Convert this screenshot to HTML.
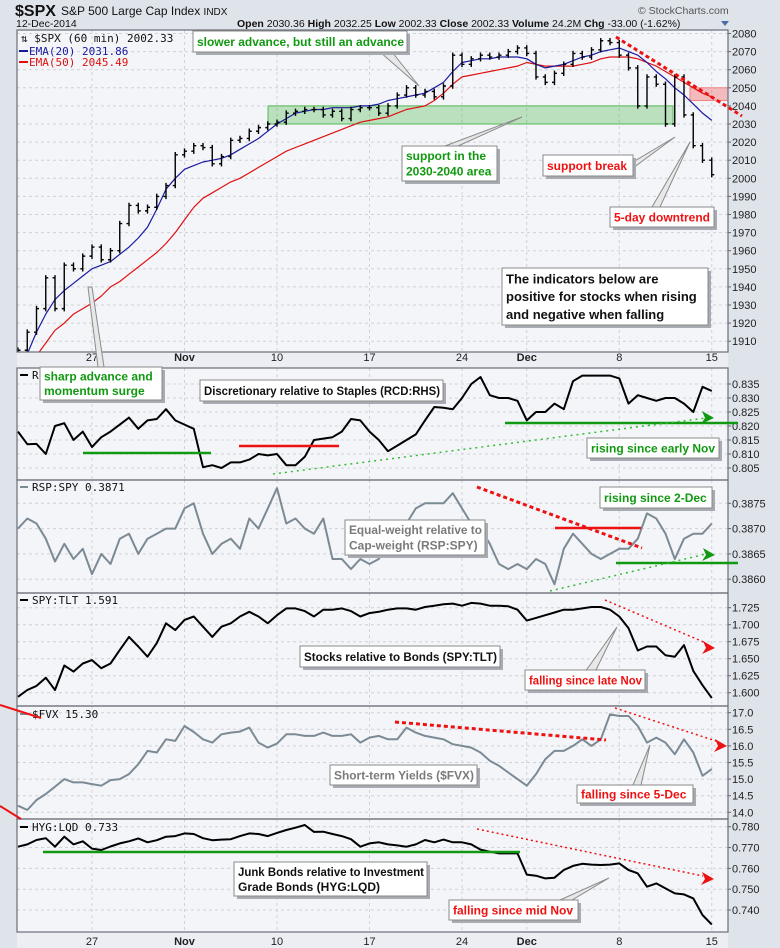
<!DOCTYPE html>
<html><head><meta charset="utf-8">
<style>
html,body{margin:0;padding:0;background:#dfe3ea;}
svg{display:block;font-family:"Liberation Sans",sans-serif;}
.ax{font-size:11px;fill:#222;}
.mono{font-family:"DejaVu Sans Mono","Liberation Mono",monospace;font-size:11px;}
</style></head>
<body>
<svg id="chart" width="780" height="948" viewBox="0 0 780 948" xmlns="http://www.w3.org/2000/svg">
<rect x="0" y="0" width="780" height="948" fill="#dfe3ea"/>
<rect x="17" y="352" width="711" height="16" fill="#eceef3"/>
<rect x="17" y="932" width="711" height="16" fill="#eceef3"/>
<text x="15" y="16" font-size="16" font-weight="bold" fill="#111">$SPX</text>
<text x="61" y="15" font-size="12" fill="#111">S&amp;P 500 Large Cap Index <tspan font-size="10">INDX</tspan></text>
<text x="16" y="27" font-size="10.5" fill="#111">12-Dec-2014</text>
<text x="638" y="14" font-size="10.5" fill="#555">© StockCharts.com</text>
<text x="237" y="27" font-size="10.5" fill="#111"><tspan font-weight="bold">Open</tspan> 2030.36 <tspan font-weight="bold">High</tspan> 2032.25 <tspan font-weight="bold">Low</tspan> 2002.33 <tspan font-weight="bold">Close</tspan> 2002.33 <tspan font-weight="bold">Volume</tspan> 24.2M <tspan font-weight="bold">Chg</tspan> -33.00 (-1.62%)</text>
<path d="M721,21 L729,21 L725,26 Z" fill="#4a6fa5"/>
<g id="layer"></g>
</svg>
<script>
// ---------- data ----------
const weekLabels = ["27","Nov","10","17","24","Dec","8","15"];
const weekSlots = [8,18,28,38,48,55,65,75];
const spxClose = [1905,1915,1928,1945,1928,1952,1950,1957,1962,1955,1960,1975,1985,1982,1984,1990,1996,2013,2015,2018,2017,2008,2012,2021,2022,2026,2028,2030,2031,2036,2037,2038,2038,2035,2037,2033,2038,2039,2039,2036,2040,2046,2050,2046,2048,2045,2051,2068,2063,2066,2068,2067,2068,2070,2072,2069,2056,2053,2058,2063,2069,2067,2071,2076,2075,2068,2061,2040,2056,2052,2030,2056,2035,2018,2010,2002];
const ema20 = [1890,1903,1915,1925,1933,1938,1942,1946,1950,1952,1954,1958,1962,1967,1973,1983,1994,2000,2005,2007,2009,2010,2011,2013,2016,2019,2022,2026,2030,2033,2036,2037,2038,2038,2039,2039,2039,2040,2040,2041,2043,2044,2045,2046,2047,2050,2053,2059,2064,2065,2066,2066,2067,2067,2067,2066,2063,2061,2062,2063,2065,2067,2068,2070,2071,2072,2070,2068,2064,2059,2055,2050,2046,2041,2036,2032];
const ema50 = [1895,1898,1902,1909,1916,1920,1925,1928,1931,1935,1940,1943,1947,1951,1955,1959,1964,1970,1977,1984,1989,1992,1995,1998,2000,2003,2006,2009,2012,2015,2017,2019,2021,2023,2025,2027,2029,2031,2032,2033,2034,2036,2038,2039,2040,2043,2047,2052,2056,2057,2058,2059,2060,2061,2062,2064,2063,2062,2062,2062,2062,2063,2064,2066,2067,2067,2067,2066,2064,2062,2059,2056,2053,2050,2047,2045];
const rcdValues = [0.818,0.8135,0.8136,0.810,0.820,0.821,0.815,0.818,0.8125,0.816,0.818,0.8205,0.823,0.819,0.822,0.8225,0.826,0.822,0.8205,0.819,0.8053,0.806,0.805,0.807,0.807,0.808,0.810,0.8095,0.810,0.806,0.806,0.809,0.815,0.8155,0.816,0.818,0.8225,0.822,0.818,0.815,0.811,0.813,0.815,0.817,0.822,0.8268,0.8265,0.826,0.830,0.835,0.8375,0.831,0.830,0.830,0.829,0.822,0.825,0.825,0.828,0.826,0.836,0.838,0.838,0.838,0.838,0.837,0.828,0.831,0.830,0.829,0.830,0.830,0.828,0.825,0.834,0.8325];
const rspValues = [0.3870,0.3872,0.3871,0.3868,0.38635,0.3867,0.3864,0.3866,0.3861,0.3865,0.3863,0.3868,0.3869,0.3865,0.3868,0.3869,0.3870,0.3870,0.3874,0.3875,0.3869,0.3865,0.3867,0.3868,0.3866,0.3872,0.3870,0.3874,0.3878,0.3871,0.3872,0.3870,0.3869,0.3872,0.3864,0.3864,0.3862,0.3864,0.3863,0.3864,0.3867,0.3867,0.3871,0.3874,0.3875,0.3875,0.3875,0.3877,0.3874,0.3871,0.3870,0.3867,0.3863,0.3862,0.3863,0.3862,0.3864,0.3863,0.3859,0.3866,0.3869,0.3867,0.3865,0.3864,0.3865,0.3866,0.3866,0.3868,0.3873,0.3872,0.3869,0.3864,0.3868,0.3869,0.3869,0.3871];
const tltValues = [1.594,1.604,1.610,1.622,1.604,1.640,1.631,1.643,1.648,1.636,1.643,1.663,1.682,1.668,1.653,1.673,1.702,1.692,1.707,1.712,1.697,1.682,1.697,1.702,1.712,1.719,1.712,1.702,1.714,1.724,1.724,1.720,1.712,1.722,1.722,1.724,1.720,1.712,1.717,1.719,1.722,1.724,1.724,1.722,1.726,1.728,1.730,1.731,1.728,1.732,1.731,1.728,1.728,1.727,1.722,1.706,1.710,1.714,1.718,1.722,1.722,1.724,1.726,1.726,1.722,1.712,1.695,1.662,1.668,1.668,1.655,1.653,1.670,1.632,1.611,1.592];
const fvxValues = [14.2,14.07,14.37,14.55,14.77,15.0,14.9,14.9,14.85,14.8,14.97,15.0,15.15,15.45,15.85,15.8,16.2,16.15,16.6,16.42,16.2,16.1,16.35,16.4,16.43,16.55,16.1,15.95,16.07,16.35,16.35,16.3,16.3,16.4,16.3,16.3,16.35,16.1,16.25,16.3,16.2,16.2,16.55,16.4,16.3,16.25,16.2,16.05,16.0,15.95,15.8,15.55,15.4,15.2,15.0,14.8,15.15,15.6,15.85,15.85,16.0,16.2,16.0,16.2,16.95,16.9,16.9,16.6,16.1,16.25,16.1,15.75,16.2,15.8,15.1,15.3];
const hygValues = [0.7704,0.7715,0.7736,0.7745,0.7704,0.7752,0.7715,0.773,0.7695,0.7688,0.7705,0.772,0.773,0.7744,0.7725,0.7735,0.7752,0.7755,0.7768,0.7765,0.7745,0.7735,0.7738,0.774,0.7755,0.7768,0.7765,0.7755,0.777,0.7784,0.7795,0.7808,0.7775,0.7776,0.7765,0.7755,0.774,0.7704,0.772,0.7725,0.7715,0.771,0.7704,0.7715,0.7736,0.7725,0.7738,0.7725,0.7725,0.7715,0.769,0.768,0.7672,0.7672,0.7672,0.757,0.7565,0.7552,0.7555,0.7592,0.7612,0.7622,0.7618,0.7616,0.7618,0.7624,0.7592,0.7576,0.7512,0.7528,0.7504,0.748,0.7475,0.7456,0.7376,0.733];
const spxTicks = [2080,2070,2060,2050,2040,2030,2020,2010,2000,1990,1980,1970,1960,1950,1940,1930,1920,1910];
const rcdTicks = ["0.835","0.830","0.825","0.820","0.815","0.810","0.805"];
const rspTicks = ["0.3875","0.3870","0.3865","0.3860"];
const tltTicks = ["1.725","1.700","1.675","1.650","1.625","1.600"];
const fvxTicks = ["17.0","16.5","16.0","15.5","15.0","14.5","14.0"];
const hygTicks = ["0.780","0.770","0.760","0.750","0.740"];

// ---------- scales ----------
const X0 = 18, SLOT = 9.25, PL = 17, PR = 728;
function xs(j){ return X0 + SLOT*j; }
const yMain = v => 178.3 - (v-2000)*1.81;
const yRcd = v => 384 + (0.835-v)*2800;
const yRsp = v => 503.3 + (0.3875-v)*50600;
const yTlt = v => 607.7 + (1.725-v)*680;
const yFvx = v => 712.7 + (17-v)*33.2;
const yHyg = v => 826.7 + (0.78-v)*2083;

const NS = "http://www.w3.org/2000/svg";
const layer = document.getElementById('layer');
function mk(tag, attrs, parent){
  const e = document.createElementNS(NS, tag);
  for (const k in attrs) e.setAttribute(k, attrs[k]);
  (parent||layer).appendChild(e);
  return e;
}

const defs = mk('defs', {});
function clip(id, t, b){
  const c = mk('clipPath', {id:id}, defs);
  mk('rect', {x:PL, y:t, width:PR-PL, height:b-t}, c);
}

function panel(name, t, b, ticks, yf, clipId){
  clip(clipId, t, b);
  const bg = mk('rect', {x:PL, y:t, width:PR-PL, height:b-t, fill:'#f4f5f9'});
  
  
  const g = mk('g', {});
  
  
  ticks.forEach(tk => {
    const y = yf(parseFloat(tk));
    if (y > t+2 && y < b-2) mk('line', {x1:PL, x2:PR, y1:y, y2:y, stroke:'#cfd2d8', 'stroke-dasharray':'3,3'}, g);
    const lbl = mk('text', {x:PR+4, y:y+4, class:'ax'});
    lbl.textContent = tk;
    
    
    mk('line', {x1:PR, x2:PR+3, y1:y, y2:y, stroke:'#666'});
  });
  weekSlots.forEach(j => {
    const x = xs(j);
    if (x < PR-1) mk('line', {x1:x, x2:x, y1:t, y2:b, stroke:'#cfd2d8', 'stroke-dasharray':'3,3'}, g);
  });
}

function border(name, t, b){
  const r = mk('rect', {x:PL, y:t, width:PR-PL, height:b-t, fill:'none', stroke:'#6a6e78', 'stroke-width':1.2});
  
  
}

function series(name, vals, yf, color, width, clipId){
  const d = vals.map((v,j) => (j?'L':'M') + xs(j).toFixed(1) + ',' + yf(v).toFixed(1)).join(' ');
  const p = mk('path', {d:d, fill:'none', stroke:color, 'stroke-width':width, 'stroke-linejoin':'round', 'clip-path':'url(#'+clipId+')'});
  
  
}

panel('price', 30, 352, spxTicks.map(String), yMain, 'cMain');
panel('rcd-rhs', 368, 480, rcdTicks, yRcd, 'cRcd');
panel('rsp-spy', 480, 593, rspTicks, yRsp, 'cRsp');
panel('spy-tlt', 593, 706, tltTicks, yTlt, 'cTlt');
panel('fvx', 706, 819, fvxTicks, yFvx, 'cFvx');
panel('hyg-lqd', 819, 932, hygTicks, yHyg, 'cHyg');

const sz = mk('rect', {x:268, y:yMain(2040), width:405, height:yMain(2030)-yMain(2040), fill:'rgba(40,170,40,0.28)', stroke:'#55b855', 'stroke-width':1});


const rz = mk('rect', {x:690, y:yMain(2050), width:38, height:yMain(2043)-yMain(2050), fill:'rgba(240,80,80,0.35)', stroke:'#f08080', 'stroke-width':1});



series('ema50-line', ema50, yMain, '#e01010', 1.2, 'cMain');
series('ema20-line', ema20, yMain, '#1a1aa0', 1.2, 'cMain');

const bars = mk('g', {'clip-path':'url(#cMain)'});


spxClose.forEach((c,j) => {
  const prev = j ? spxClose[j-1] : c;
  const hi = Math.max(prev,c)+1.5, lo = Math.min(prev,c)-1.5;
  const x = xs(j);
  const b = mk('path', {d:'M'+x+','+yMain(hi)+' L'+x+','+yMain(lo)+' M'+(x-2.5)+','+yMain(prev)+' L'+x+','+yMain(prev)+' M'+x+','+yMain(c)+' L'+(x+2.5)+','+yMain(c), stroke:'#000', 'stroke-width':1.4, fill:'none'}, bars);
  
  
});

series('rcd-rhs-line', rcdValues, yRcd, '#000', 2, 'cRcd');
series('rsp-spy-line', rspValues, yRsp, '#7b8a94', 2, 'cRsp');
series('spy-tlt-line', tltValues, yTlt, '#000', 2, 'cTlt');
series('fvx-line', fvxValues, yFvx, '#7b8a94', 2, 'cFvx');
series('hyg-lqd-line', hygValues, yHyg, '#000', 2, 'cHyg');

border('price',30,352); border('rcd-rhs',368,480); border('rsp-spy',480,593);
border('spy-tlt',593,706); border('fvx',706,819); border('hyg-lqd',819,932);

[357, 941].forEach((yy, k) => {
  weekLabels.forEach((lb, i) => {
    const t = mk('text', {x:xs(weekSlots[i]), y:yy+4, 'text-anchor':'middle', class:'ax', 'font-weight':(lb==='Nov'||lb==='Dec')?'bold':'normal'});
    t.textContent = lb;
    
    
  });
});

// ---------- annotations ----------
function line(name, x1,y1,x2,y2,color,w,dash){
  const l = mk('line', {x1:x1,y1:y1,x2:x2,y2:y2,stroke:color,'stroke-width':w});
  if (dash) l.setAttribute('stroke-dasharray', dash);
  
  
}
function arrow(name, x,y,color){
  const a = mk('path', {d:'M'+x+','+y+' L'+(x-12)+','+(y-7)+' L'+(x-9)+','+y+' L'+(x-13)+','+(y+6)+' Z', fill:color});
  
  
}
function pointer(name, pts){
  const p = mk('polygon', {points:pts, fill:'#e8e8e8', stroke:'#8a8a8a', 'stroke-width':1});
  
  
}
function box(name, x,y,w,h,lines,color,fs){
  mk('rect', {x:x+3,y:y+3,width:w,height:h,fill:'#a8abb2'});
  const r = mk('rect', {x:x,y:y,width:w,height:h,fill:'#fff',stroke:'#8a8a8a','stroke-width':1});
  
  
  const lh = (h-4)/lines.length;
  lines.forEach((s,i) => {
    const t = mk('text', {x:x+4, y:y+2+lh*(i+0.5)+fs*0.36, fill:color, 'font-size':fs, 'font-weight':'bold'});
    t.textContent = s;
    
    
    const maxW = w-7;
    if (t.getComputedTextLength && t.getComputedTextLength() > maxW) {
      t.setAttribute('textLength', maxW);
      t.setAttribute('lengthAdjust', 'spacingAndGlyphs');
    }
  });
}

line('downtrend-line', 616, 37, 742, 116, '#ee1111', 3, '4,3');
pointer('slower-advance-pointer', '380,52 392,52 419,86');
pointer('sharp-advance-pointer', '88,287 92,287 104,367 98,367');
pointer('support-pointer', '445,146 458,146 522,117');
pointer('support-break-pointer', '633,162 633,168 675,137');
pointer('downtrend-pointer', '652,207 660,207 690,142');

box('slower-advance-note', 193, 31, 214, 21, ['slower advance, but still an advance'], '#119911', 12);
box('support-area-note', 402, 146, 95, 35, ['support in the','2030-2040 area'], '#119911', 12);
box('support-break-note', 543, 155, 90, 21, ['support break'], '#ee1111', 12);
box('downtrend-note', 610, 207, 104, 20, ['5-day downtrend'], '#ee1111', 12);
box('indicators-note', 502, 268, 206, 57, ['The indicators below are','positive for stocks when rising','and negative when falling'], '#111', 13);

const lg = mk('text', {x:21, y:42, class:'mono', fill:'#111'}); lg.textContent = '⇅ $SPX (60 min) 2002.33';
 
mk('line', {x1:19,x2:28,y1:51,y2:51,stroke:'#1a1aa0','stroke-width':2});
const l2 = mk('text', {x:29, y:55, class:'mono', fill:'#1a1aa0'}); l2.textContent = 'EMA(20) 2031.86';
 
mk('line', {x1:19,x2:28,y1:62,y2:62,stroke:'#e01010','stroke-width':2});
const l3 = mk('text', {x:29, y:66, class:'mono', fill:'#e01010'}); l3.textContent = 'EMA(50) 2045.49';
 

function plegend(name, y, txt, color){
  mk('line', {x1:20,x2:28,y1:y-4,y2:y-4,stroke:color,'stroke-width':2});
  const t = mk('text', {x:32, y:y, class:'mono', fill:'#111'}); t.textContent = txt;
   
}
plegend('legend-rcd', 379, 'R', '#000');
plegend('legend-rsp', 491, 'RSP:SPY 0.3871', '#7b8a94');
plegend('legend-tlt', 604, 'SPY:TLT 1.591', '#000');
plegend('legend-fvx', 718, '$FVX 15.30', '#7b8a94');
plegend('legend-hyg', 831, 'HYG:LQD 0.733', '#000');

line('rcd-support-line', 83, 453, 211, 453, '#119911', 2.5);
line('rcd-resistance-line', 239, 446, 339, 446, '#ee1111', 2.5);
line('rcd-dec-support', 505, 423, 738, 423, '#119911', 2.5);
line('rcd-rising-trend', 273, 474, 706, 418, '#33bb33', 1.5, '2,4');
arrow('rcd-arrow', 714, 418, '#119911');
box('sharp-advance-note', 40, 367, 122, 33, ['sharp advance and','momentum surge'], '#119911', 12);
box('rcd-note', 200, 380, 243, 21, ['Discretionary relative to Staples (RCD:RHS)'], '#111', 12);
box('rcd-rising-note', 587, 438, 132, 20, ['rising since early Nov'], '#119911', 12);

line('rsp-downtrend', 477, 487, 642, 548, '#ee1111', 3, '4,3');
line('rsp-resistance', 555, 528, 641, 528, '#ee1111', 2.5);
line('rsp-support', 616, 563, 738, 563, '#119911', 2.5);
line('rsp-rising-trend', 550, 591, 706, 554, '#33bb33', 1.5, '2,4');
arrow('rsp-arrow', 715, 555, '#119911');
box('rsp-note', 345, 520, 140, 35, ['Equal-weight relative to','Cap-weight (RSP:SPY)'], '#7a7a7a', 12);
box('rsp-rising-note', 600, 487, 112, 21, ['rising since 2-Dec'], '#119911', 12);

line('tlt-downtrend', 605, 600, 706, 643, '#ee1111', 1.5, '2,3');
arrow('tlt-arrow', 715, 648, '#ee1111');
pointer('tlt-pointer', '585,672 595,672 617,627');
box('tlt-note', 300, 646, 200, 21, ['Stocks relative to Bonds (SPY:TLT)'], '#111', 12);
box('tlt-falling-note', 525, 670, 120, 20, ['falling since late Nov'], '#ee1111', 12);

line('fvx-left-red-1', 0, 705, 41, 718, '#ee1111', 2);
line('fvx-left-red-2', 0, 806, 21, 819, '#ee1111', 2);
line('fvx-downtrend-1', 395, 722, 606, 740, '#ee1111', 3, '4,3');
line('fvx-downtrend-2', 615, 708, 716, 741, '#ee1111', 1.5, '2,3');
arrow('fvx-arrow', 727, 746, '#ee1111');
pointer('fvx-pointer', '633,785 641,785 650,745');
box('fvx-note', 330, 765, 147, 20, ['Short-term Yields ($FVX)'], '#7a7a7a', 12);
box('fvx-falling-note', 577, 785, 116, 18, ['falling since 5-Dec'], '#ee1111', 12);

line('hyg-support', 43, 852, 520, 852, '#119911', 2.5);
line('hyg-downtrend', 477, 829, 703, 876, '#ee1111', 1.5, '2,3');
arrow('hyg-arrow', 714, 879, '#ee1111');
pointer('hyg-pointer', '560,900 572,900 609,878');
box('hyg-note', 234, 862, 193, 34, ['Junk Bonds relative to Investment','Grade Bonds (HYG:LQD)'], '#111', 12);
box('hyg-falling-note', 449, 900, 129, 20, ['falling since mid Nov'], '#ee1111', 12);
</script>
</body></html>
